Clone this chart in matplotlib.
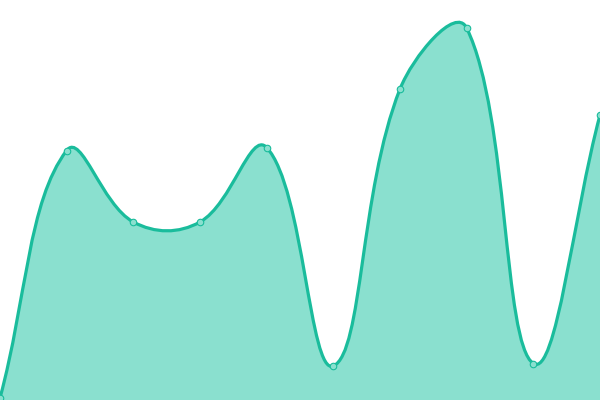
import numpy as np
import matplotlib
matplotlib.use("Agg")
import matplotlib.pyplot as plt
from matplotlib.path import Path
from matplotlib.patches import PathPatch

# data (index positions and values)
x_vals = [0, 1, 2, 3, 4, 5, 6, 7, 8, 9]
y_vals = [2, 249.5, 178, 178, 252.5, 34, 311, 372, 36.5, 285]

LINE = "#1abc9c"
FILL = "#8ae0cf"
TENSION = 0.4

fig = plt.figure(figsize=(6, 4), dpi=100)
ax = fig.add_axes([0, 0, 1, 1])
ax.set_xlim(0, 9)
ax.set_ylim(0, 400)
ax.axis("off")

# compute spline control points in pixel space (Chart.js-like tension spline)
fig.canvas.draw()
pts = ax.transData.transform(np.column_stack([x_vals, y_vals]))
n = len(pts)
cps_prev, cps_next = [], []
for i in range(n):
    p0 = pts[max(i - 1, 0)]
    p1 = pts[i]
    p2 = pts[min(i + 1, n - 1)]
    d01 = np.hypot(*(p1 - p0))
    d12 = np.hypot(*(p2 - p1))
    tot = d01 + d12
    s01 = d01 / tot if tot else 0
    s12 = d12 / tot if tot else 0
    fa = TENSION * s01
    fb = TENSION * s12
    cps_prev.append(p1 - fa * (p2 - p0))
    cps_next.append(p1 + fb * (p2 - p0))

inv = ax.transData.inverted()
verts = [tuple(inv.transform(pts[0]))]
codes = [Path.MOVETO]
for i in range(n - 1):
    verts += [tuple(inv.transform(cps_next[i])), tuple(inv.transform(cps_prev[i + 1])),
              tuple(inv.transform(pts[i + 1]))]
    codes += [Path.CURVE4] * 3

line_path = Path(verts, codes)
fill_verts = verts + [(x_vals[-1], 0), (x_vals[0], 0), verts[0]]
fill_codes = codes + [Path.LINETO, Path.LINETO, Path.CLOSEPOLY]
ax.add_patch(PathPatch(Path(fill_verts, fill_codes), facecolor=FILL, edgecolor="none", zorder=1))
ax.add_patch(PathPatch(line_path, facecolor="none", edgecolor=LINE, linewidth=2.3, zorder=2))
ax.scatter(x_vals, y_vals, s=22, facecolor=FILL, edgecolor=LINE, linewidth=0.8, zorder=3)

fig.savefig("out.png", dpi=100)
